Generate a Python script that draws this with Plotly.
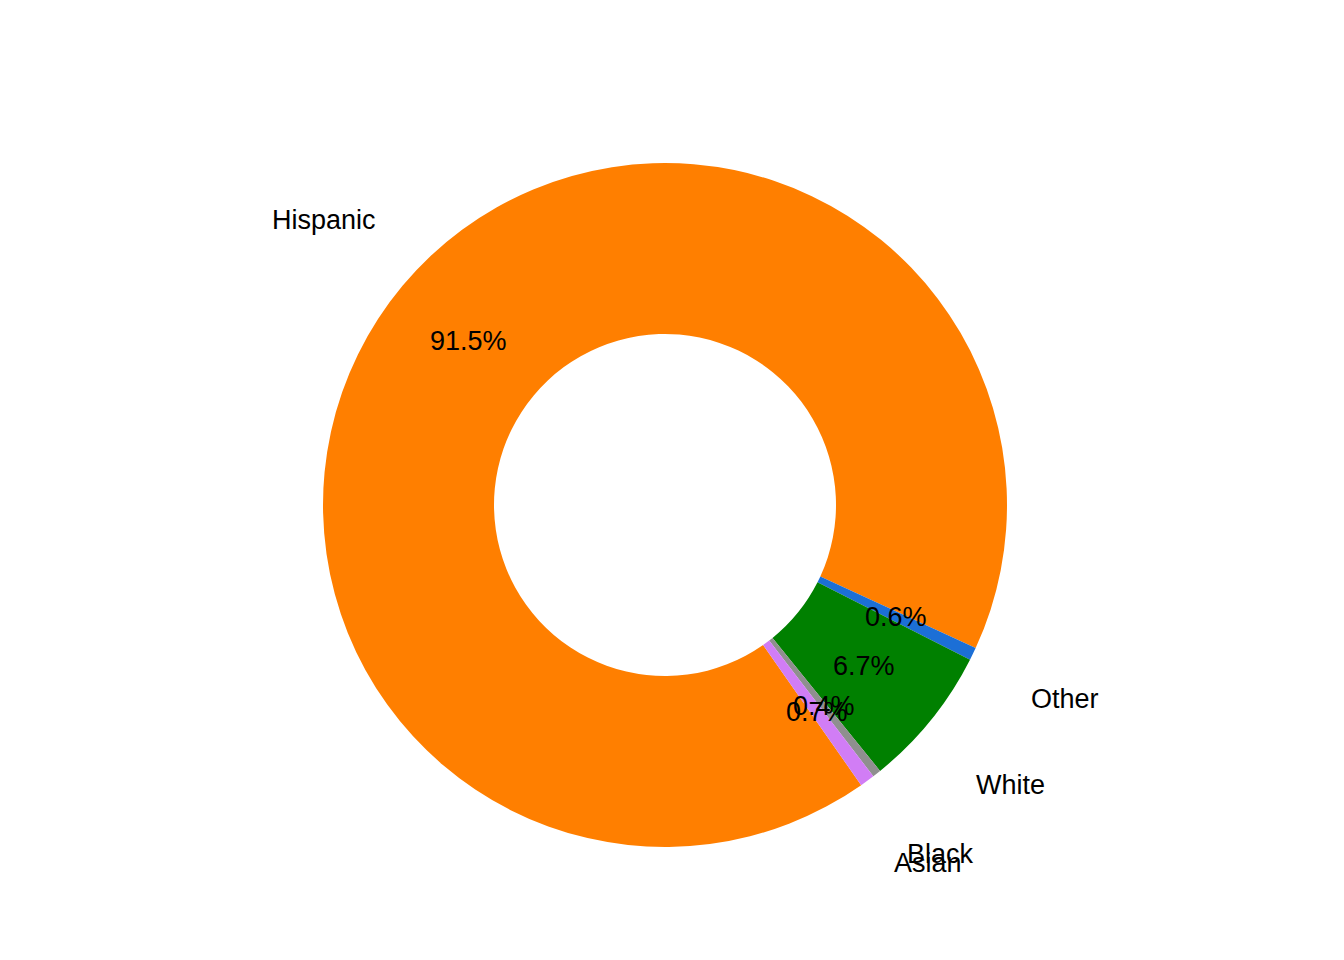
import math
import plotly.graph_objects as go

groups = ["Hispanic", "Other", "White", "Black", "Asian"]
shares = [91.5, 0.6, 6.7, 0.4, 0.7]
colors = ["#FF7F00", "#1C6FD6", "#008000", "#8F8F8F", "#D17DF5"]

W, H = 1344, 960
cx, cy, R = 657, 497, 342
start = 145.0

fig = go.Figure(go.Pie(
    labels=groups, values=shares, sort=False, direction="clockwise",
    rotation=start, hole=0.5, marker=dict(colors=colors, line=dict(width=0)),
    textinfo="none", hoverinfo="label+percent", showlegend=False,
    domain=dict(x=[(cx - R) / W, (cx + R) / W], y=[1 - (cy + R) / H, 1 - (cy - R) / H]),
))

ann = []
total = sum(shares)
acc = 0.0
for g, v in zip(groups, shares):
    mid = math.radians(start + (acc + v / 2) / total * 360)
    acc += v
    for rr, txt in [(0.75 * R, f"{v}%"), (1.3 * R, g)]:
        ann.append(dict(x=(cx + rr * math.sin(mid)) / W, y=1 - (cy - rr * math.cos(mid)) / H,
                        xref="paper", yref="paper", xanchor="center", yanchor="middle",
                        text=txt, showarrow=False,
                        font=dict(size=27, color="black", family="Liberation Sans, Arial")))

fig.update_layout(width=W, height=H, margin=dict(l=0, r=0, t=0, b=0),
                  paper_bgcolor="white", plot_bgcolor="white", annotations=ann)
fig.write_html("out.html")
